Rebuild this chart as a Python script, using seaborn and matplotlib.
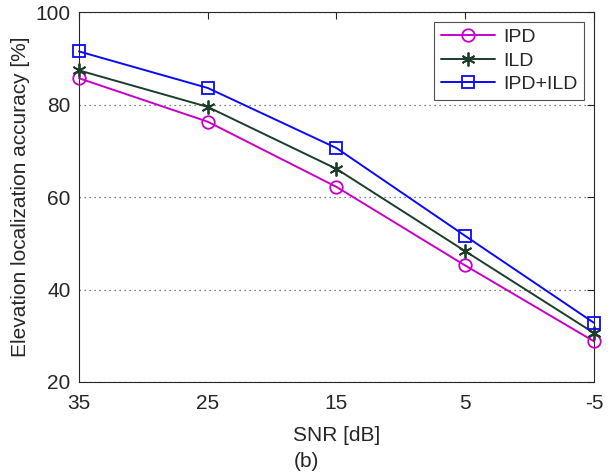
import matplotlib
matplotlib.use("Agg")
import matplotlib.pyplot as plt
import seaborn as sns
import pandas as pd

snr = [35, 25, 15, 5, -5]
ipd = [85.7, 76.3, 62.2, 45.2, 28.8]
ild = [87.4, 79.5, 66.1, 48.3, 30.6]
ipd_ild = [91.5, 83.6, 70.6, 51.6, 32.8]
series_names = ["IPD", "ILD", "IPD+ILD"]
y_ticks = [20, 40, 60, 80, 100]

sns.set_theme(style="white")
plt.rcParams['font.family'] = ['Liberation Sans', 'DejaVu Sans']

df = pd.DataFrame({
    "SNR": snr * 3,
    "acc": ipd + ild + ipd_ild,
    "method": sum([[n] * len(snr) for n in series_names], []),
})

colors = {"IPD": "#C800C8", "ILD": "#1C3D2A", "IPD+ILD": "#0A0AF5"}
markers = {"IPD": "o", "ILD": (6, 2, 0), "IPD+ILD": "s"}
msizes = {"IPD": 9, "ILD": 10, "IPD+ILD": 8}

fig = plt.figure(figsize=(6.13, 4.76), dpi=100)
ax = fig.add_axes([0.1289, 0.1975, 0.840, 0.777])

for name in series_names:
    sub = df[df.method == name]
    sns.lineplot(data=sub, x="SNR", y="acc", ax=ax, color=colors[name],
                 marker=markers[name], markersize=msizes[name],
                 markerfacecolor="none" if name != "ILD" else colors[name],
                 markeredgecolor=colors[name], markeredgewidth=1.3,
                 linewidth=1.4, label=name, clip_on=False, zorder=3)

ax.set_xlim(35, -5)
ax.set_ylim(20, 100)
ax.set_xticks(snr)
ax.set_xticklabels([str(s) for s in snr])
ax.set_yticks(y_ticks)
ax.yaxis.grid(True, linestyle=(0, (1, 3)), color="#555555", linewidth=0.9)
ax.xaxis.grid(False)
for sp in ax.spines.values():
    sp.set_color("#262626")
    sp.set_linewidth(0.8)
ax.tick_params(direction="in", length=5, width=0.8, color="#262626",
               top=True, right=True, labelsize=15, labelcolor="#262626")
ax.tick_params(axis="x", pad=9)
ax.tick_params(axis="y", pad=6)
ax.set_xlabel("SNR [dB]", fontsize=15, color="#262626", labelpad=9)
ax.set_ylabel("Elevation localization accuracy [%]", fontsize=15, color="#262626", labelpad=4)

leg = ax.legend(loc="upper right", fontsize=14, frameon=True, fancybox=False,
                edgecolor="#262626", borderaxespad=0.5, handlelength=2.8,
                labelspacing=0.3, borderpad=0.35, handletextpad=0.4)
leg.get_frame().set_linewidth(0.8)

fig.text(0.5, 0.03, "(b)", ha="center", va="center", fontsize=15, color="#262626")

fig.savefig("out.png", dpi=100)
